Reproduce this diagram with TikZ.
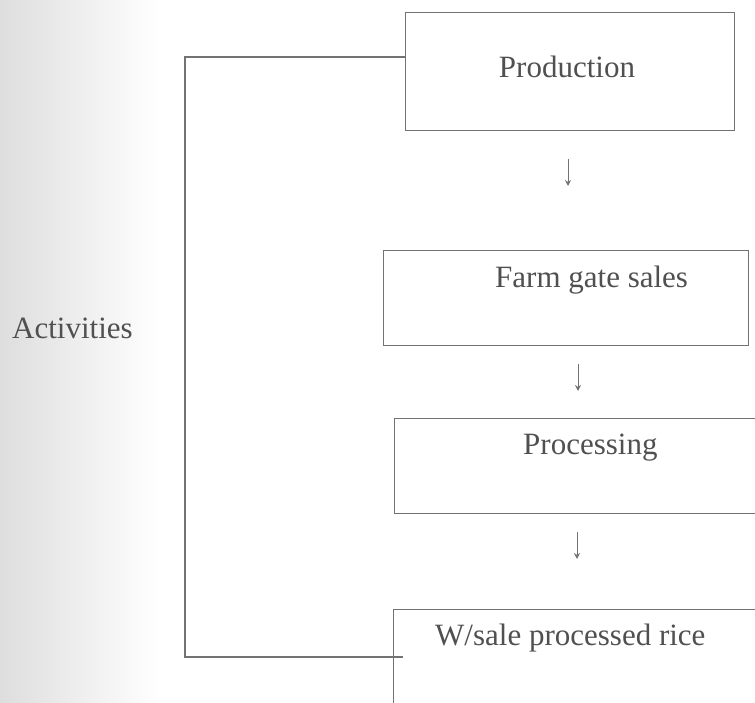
\documentclass[tikz,border=0pt]{standalone}
\usepackage{fontspec}
\setmainfont{Liberation Serif}
\usetikzlibrary{arrows.meta}
\definecolor{linegray}{RGB}{115,115,115}
\definecolor{txtgray}{RGB}{80,80,80}
\begin{document}
\begin{tikzpicture}[x=1pt,y=-1pt,
  box/.style={draw=linegray, line width=1.4pt, rectangle, inner sep=0pt, anchor=north west},
  lbl/.style={text=txtgray, font=\fontsize{31}{36}\selectfont, inner sep=0pt},
  flow/.style={draw=linegray, line width=1pt, -{Stealth[length=6pt,width=6pt]}},
  link/.style={draw=linegray, line width=1.4pt}]
\useasboundingbox (0,0) rectangle (755,703);
\shade[left color=black!13, right color=white] (0,0) rectangle (160,703);
% boxes
\node[box, minimum width=329pt, minimum height=118pt] (prod) at (405,12) {};
\node[box, minimum width=365pt, minimum height=95pt] (farm) at (383,250) {};
\node[box, minimum width=370pt, minimum height=95pt] (proc) at (394,418) {};
\node[box, minimum width=370pt, minimum height=120pt] (wsale) at (393,609) {};
% labels
\node[lbl] (prodtxt) at (567,67) {Production};
\node[lbl, anchor=west] (farmtxt) at (495,280) {Farm gate sales};
\node[lbl, anchor=west] (proctxt) at (523,448) {Processing};
\node[lbl, anchor=west] (wsaletxt) at (435,638) {W/sale processed rice};
\node[lbl, anchor=west] (act) at (12,328) {Activities};
% flow arrows
\coordinate (a1s) at (568,159); \coordinate (a1e) at (568,186);
\coordinate (a2s) at (578,364); \coordinate (a2e) at (578,391);
\coordinate (a3s) at (577,532); \coordinate (a3e) at (577,559);
\draw[flow] (a1s) -- (a1e);
\draw[flow] (a2s) -- (a2e);
\draw[flow] (a3s) -- (a3e);
% bracket
\coordinate (tl) at (185,57);
\coordinate (bl) at (185,657);
\coordinate (br) at (403,657);
\draw[link] (prod.west |- tl) -- (tl) -- (bl) -- (br);
\end{tikzpicture}
\end{document}
